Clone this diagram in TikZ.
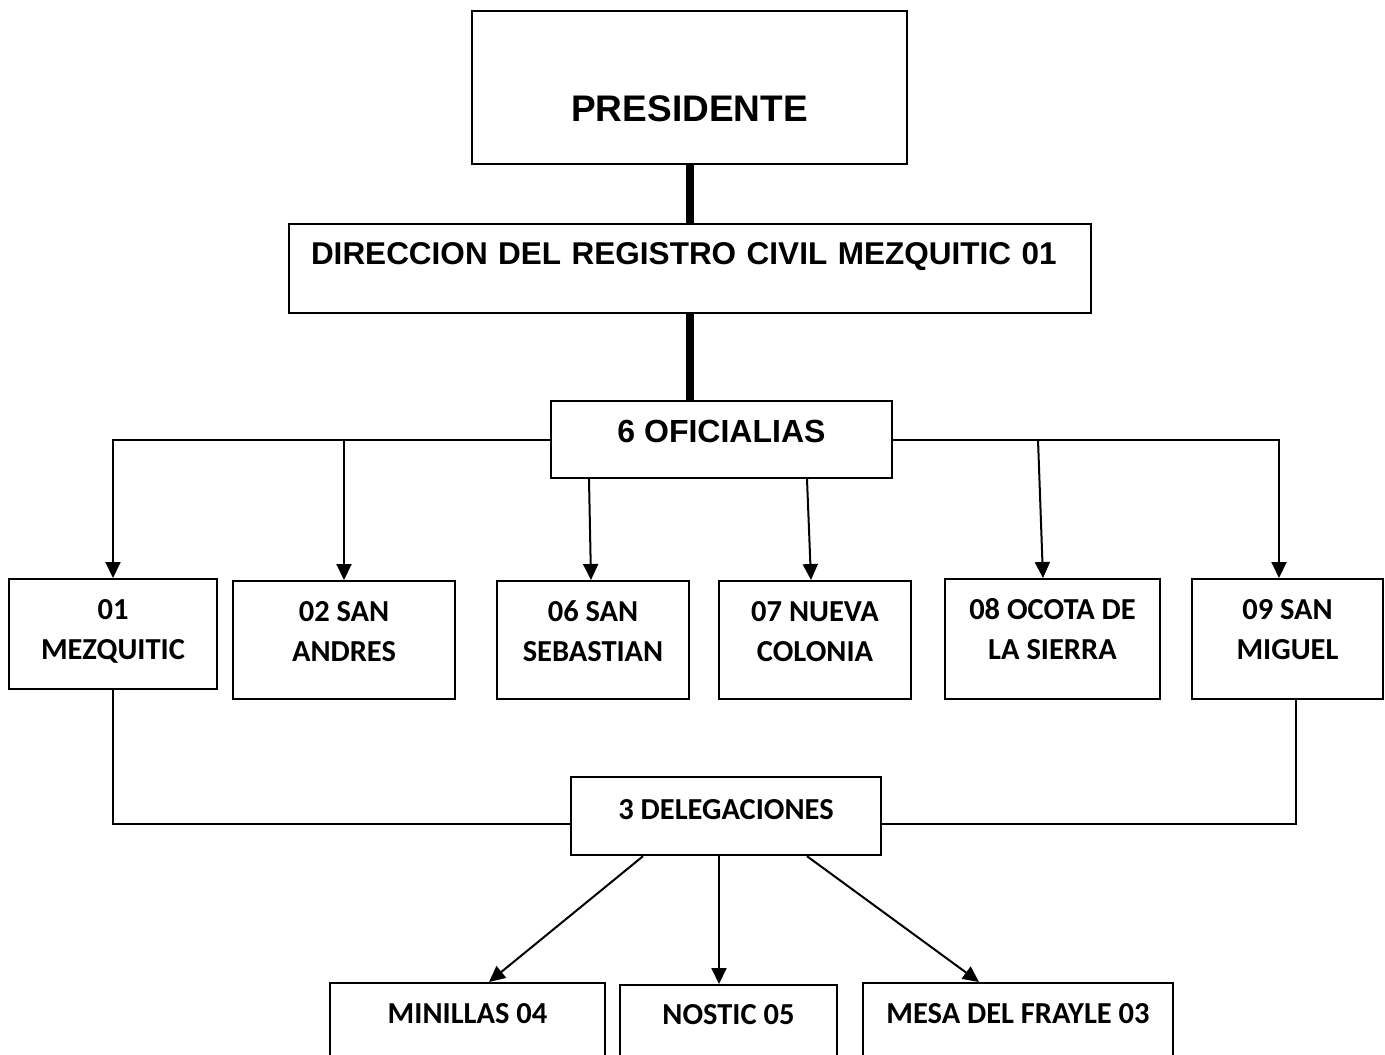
\documentclass[tikz,border=0pt]{standalone}
\usepackage{fontspec}
\setmainfont{Carlito}
\newfontfamily\arialfont{Liberation Sans}
\usetikzlibrary{positioning}
\usetikzlibrary{arrows.meta}

\begin{document}
\begin{tikzpicture}[x=1pt, y=-1pt,
			box/.style={draw, line width=2.2pt, anchor=north, align=center, inner xsep=0pt, inner ysep=0pt},
			ofibox/.style={box, font=\fontsize{30.5}{40}\selectfont\bfseries, text height=80pt},
			link/.style={line width=2pt},
			arrowlink/.style={link, -{Triangle[length=16pt,width=15pt]}},
			stem/.style={line width=8pt}]
			\useasboundingbox (0,0) rectangle (1385,1055);
			\clip (0,0) rectangle (1385,1055);
			\node[box, minimum width=435pt, text height=110pt, text depth=43pt, font=\arialfont\fontsize{37}{44}\selectfont\bfseries](presidente) at (689.5,10) {PRESIDENTE};
			\node[box, minimum width=802pt, text width=758pt, align=left, inner xsep=22pt, text height=40pt, text depth=49pt, font=\arialfont\fontsize{31.5}{38}\selectfont\bfseries](direccion) at (690,223) {DIRECCION DEL REGISTRO CIVIL MEZQUITIC 01};
			\node[box, minimum width=341pt, text height=41.5pt, text depth=35.5pt, font=\arialfont\fontsize{32}{38}\selectfont\bfseries](oficialias) at (721.5,400) {6 OFICIALIAS};
			\node[ofibox, minimum width=208pt, text depth=30pt](mezquitic) at (113,578) {01\\MEZQUITIC};
			\node[ofibox, minimum width=222pt, text depth=38pt](sanandres) at (344,580) {02 SAN\\ANDRES};
			\node[ofibox, minimum width=192pt, text depth=38pt](sansebastian) at (593,580) {06 SAN\\SEBASTIAN};
			\node[ofibox, minimum width=192pt, text depth=38pt](nuevacolonia) at (815,580) {07 NUEVA\\COLONIA};
			\node[ofibox, minimum width=215pt, text depth=40pt](ocota) at (1052.5,578) {08 OCOTA DE\\LA SIERRA};
			\node[ofibox, minimum width=191pt, text depth=40pt](sanmiguel) at (1287.5,578) {09 SAN\\MIGUEL};
			\node[ofibox, minimum width=310pt, text height=42.8pt, text depth=35.2pt](delegaciones) at (726,776) {3 DELEGACIONES};
			\node[ofibox, minimum width=275pt, text height=40pt, text depth=80pt](minillas) at (467.5,982) {MINILLAS 04};
			\node[ofibox, minimum width=217pt, text height=39pt, text depth=80pt](nostic) at (728.5,984) {NOSTIC 05};
			\node[ofibox, minimum width=310pt, text height=40pt, text depth=80pt](mesa) at (1018,982) {MESA DEL FRAYLE 03};
			\path[draw, stem] (presidente.south) -- (presidente.south |- direccion.north);
			\path[draw, stem] (direccion.south) -- (direccion.south |- oficialias.north);
			\path[draw, arrowlink] (oficialias.west) -| (mezquitic.north);
			\path[draw, arrowlink] (sanandres.north |- oficialias.west) -- (sanandres.north);
			\path[draw, arrowlink] ([xshift=-132.5pt]oficialias.south) -- ([xshift=-2pt]sansebastian.north);
			\path[draw, arrowlink] ([xshift=85.5pt]oficialias.south) -- ([xshift=-4pt]nuevacolonia.north);
			\path[draw, arrowlink] (oficialias.east) -| ([xshift=-8.5pt]sanmiguel.north);
			\path[draw, arrowlink] ([xshift=-14.5pt]ocota.north |- oficialias.east) -- ([xshift=-9.5pt]ocota.north);
			\path[draw, link] (mezquitic.south) |- ([yshift=-8pt]delegaciones.west);
			\path[draw, link] ([xshift=8.5pt]sanmiguel.south) |- ([yshift=-8pt]delegaciones.east);
			\path[draw, arrowlink] ([xshift=-83pt]delegaciones.south) -- ([xshift=21.5pt]minillas.north);
			\path[draw, arrowlink] ([xshift=-7pt]delegaciones.south) -- ([xshift=-9.5pt]nostic.north);
			\path[draw, arrowlink] ([xshift=81pt]delegaciones.south) -- ([xshift=-39pt]mesa.north);
	\end{tikzpicture}
\end{document}
